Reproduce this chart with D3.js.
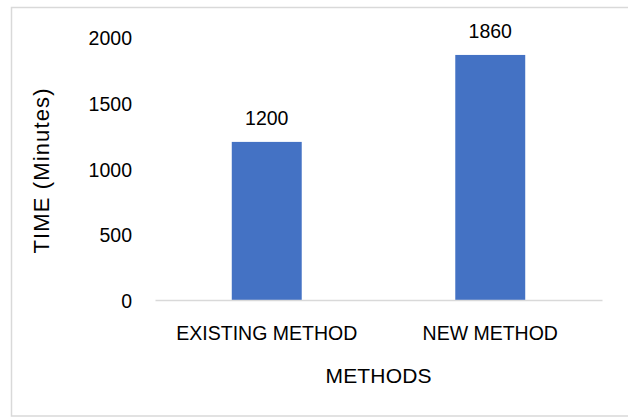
<!DOCTYPE html>
<html>
<head>
<meta charset="utf-8">
<script src="https://cdn.jsdelivr.net/npm/d3@7/dist/d3.min.js"></script>
<style>
  html, body { margin: 0; padding: 0; background: #fff; }
  svg { display: block; }
  text { font-family: "Liberation Sans", Arial, sans-serif; fill: #000; }
</style>
</head>
<body>
<svg id="chart" width="628" height="417"></svg>
<script>
// Data
const categories = ["EXISTING METHOD", "NEW METHOD"];
const values = [1200, 1860];
const yTicks = [0, 500, 1000, 1500, 2000];
const xTitle = "METHODS";
const yTitle = "TIME (Minutes)";

const plot = { left: 155, right: 602, top: 36.5, bottom: 300 };
const fontSize = 19.5;

const svg = d3.select("#chart");

// Outer chart frame
svg.append("rect")
  .attr("x", 11.5).attr("y", 7.5)
  .attr("width", 640).attr("height", 408.5)
  .attr("fill", "#fff")
  .attr("stroke", "#d9d9d9")
  .attr("stroke-width", 1.5);

const x = d3.scaleBand()
  .domain(categories)
  .range([plot.left, plot.right])
  .paddingInner(0.687)
  .paddingOuter(0.3435);

const y = d3.scaleLinear()
  .domain([0, 2000])
  .range([plot.bottom, plot.top]);

// Bars
svg.append("g")
  .selectAll("rect")
  .data(values)
  .join("rect")
  .attr("x", (d, i) => x(categories[i]))
  .attr("y", d => y(d))
  .attr("width", x.bandwidth())
  .attr("height", d => y(0) - y(d))
  .attr("fill", "#4472c4");

// Value labels
svg.append("g")
  .selectAll("text")
  .data(values)
  .join("text")
  .attr("x", (d, i) => x(categories[i]) + x.bandwidth() / 2)
  .attr("y", d => y(d) - 24)
  .attr("text-anchor", "middle")
  .attr("dominant-baseline", "central")
  .attr("font-size", fontSize)
  .text(d => d);

// Y axis (labels only)
const yAxis = d3.axisLeft(y).tickValues(yTicks).tickFormat(d3.format("d")).tickSize(0).tickPadding(0);
const yg = svg.append("g")
  .attr("transform", `translate(132,0)`)
  .call(yAxis);
yg.select(".domain").remove();
yg.selectAll("text")
  .attr("font-size", fontSize)
  .attr("font-family", "Liberation Sans, Arial, sans-serif")
  .attr("fill", "#000")
  .attr("dy", "0.35em")
  .attr("y", 1);

// X axis baseline and category labels
const xAxis = d3.axisBottom(x).tickSize(0).tickPadding(0);
const xg = svg.append("g")
  .attr("transform", `translate(0,${plot.bottom})`)
  .call(xAxis);
xg.select(".domain")
  .attr("stroke", "#d9d9d9")
  .attr("stroke-width", 1.5);
xg.selectAll("text")
  .attr("font-size", fontSize)
  .attr("font-family", "Liberation Sans, Arial, sans-serif")
  .attr("fill", "#000")
  .attr("dy", null)
  .attr("y", 33)
  .attr("dominant-baseline", "central");

// Axis titles
svg.append("text")
  .attr("x", (plot.left + plot.right) / 2)
  .attr("y", 375)
  .attr("text-anchor", "middle")
  .attr("dominant-baseline", "central")
  .attr("font-size", 21)
  .attr("textLength", 106)
  .attr("lengthAdjust", "spacing")
  .text(xTitle);

svg.append("text")
  .attr("transform", `translate(41,171) rotate(-90)`)
  .attr("text-anchor", "middle")
  .attr("dominant-baseline", "central")
  .attr("font-size", 22)
  .attr("textLength", 165)
  .attr("lengthAdjust", "spacing")
  .text(yTitle);
</script>
</body>
</html>
